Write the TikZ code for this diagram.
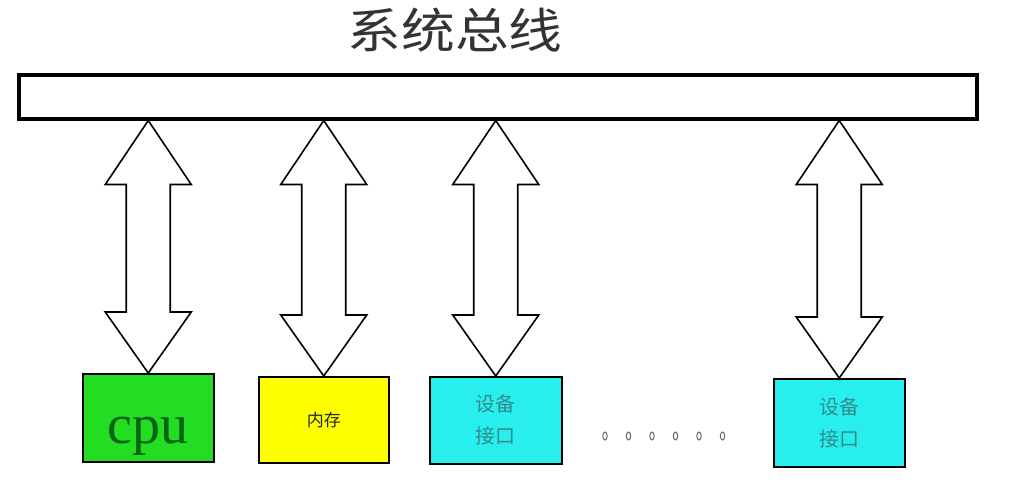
\documentclass[tikz,border=0pt]{standalone}
\usepackage{fontspec}
\setmainfont{Liberation Serif}
\newfontfamily\cjk{Noto Sans CJK SC}
\usetikzlibrary{calc}
\definecolor{cpugreen}{RGB}{34,221,34}
\definecolor{cputext}{RGB}{0,100,20}
\definecolor{memyellow}{RGB}{255,255,0}
\definecolor{devcyan}{RGB}{40,238,238}
\definecolor{devtext}{RGB}{50,140,140}
\tikzset{
  unitbox/.style={draw=black, line width=1.5pt, minimum width=130pt, minimum height=87pt, inner sep=0pt, anchor=north west},
  busbox/.style={draw=black, line width=3.5pt, fill=white, anchor=north west, inner sep=0pt, minimum width=958pt, minimum height=44pt},
  arrowshape/.style={draw=black, line width=1.6pt, fill=white, line join=miter},
}
\newcommand\busarrow[1]{%
  \path (bus.south -| #1.north) coordinate (#1-t) (#1.north) coordinate (#1-b);
  \draw[arrowshape] (#1-t) -- ($(#1-t)+(43,64)$) -- ($(#1-t)+(22,64)$)
    -- ($(#1-b)+(22,-61)$) -- ($(#1-b)+(43,-61)$) -- (#1-b)
    -- ($(#1-b)+(-43,-61)$) -- ($(#1-b)+(-22,-61)$) -- ($(#1-t)+(-22,64)$)
    -- ($(#1-t)+(-43,64)$) -- cycle;}
\begin{document}
\begin{tikzpicture}[x=1pt,y=-1pt]
\useasboundingbox[fill=white] (0,0) rectangle (1028,490);
\node[font={\cjk\fontsize{48}{50}\selectfont}, xscale=1.12, text=black!80] (title) at (455,30) {系统总线};
\node[busbox] (bus) at (17,73) {};
\node[unitbox, fill=cpugreen, minimum width=131pt, minimum height=88pt] (cpu) at (82,373) {};
\node[text=cputext, font=\fontsize{56}{58}\selectfont, anchor=base, inner sep=0pt] (cputxt) at ($(cpu.north)+(0,70)$) {cpu};
\node[unitbox, fill=memyellow, minimum width=130pt, minimum height=86pt] (mem) at (258,376) {};
\node[font={\cjk\fontsize{17}{20}\selectfont}, text=black!85] (memtxt) at (mem.center) {内存};
\node[unitbox, fill=devcyan, minimum width=132pt, minimum height=87pt] (devA) at (429,376) {};
\node[font={\cjk\fontsize{20}{32}\selectfont}, text=devtext, align=center] (devAtxt) at (devA.center) {设备\\接口};
\node[unitbox, fill=devcyan, minimum width=131pt, minimum height=88pt] (devB) at (773,378) {};
\node[font={\cjk\fontsize{20}{32}\selectfont}, text=devtext, align=center] (devBtxt) at (devB.center) {设备\\接口};
\foreach \i in {0,...,5} {
  \draw[gray!80!black, line width=1pt] (605+\i*23.5,436) ellipse (2.2 and 4);
}
\busarrow{cpu}
\busarrow{mem}
\busarrow{devA}
\busarrow{devB}
\end{tikzpicture}
\end{document}
